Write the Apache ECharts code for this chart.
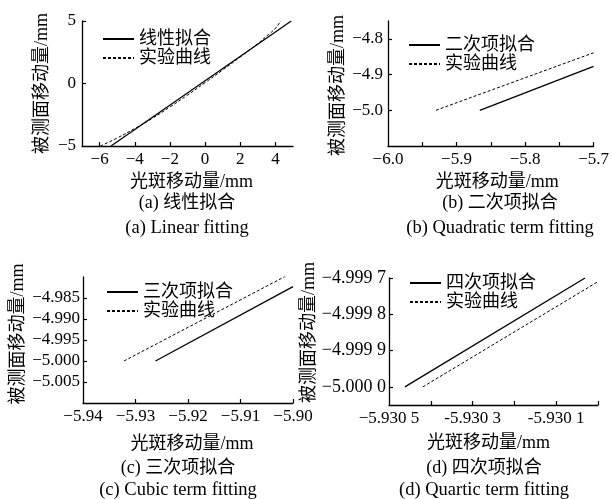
<!DOCTYPE html>
<html>
<head>
<meta charset="utf-8">
<script src="https://cdn.jsdelivr.net/npm/echarts@6/dist/echarts.min.js"></script>
<style>
html,body{margin:0;padding:0;background:#fff;}
#chart{width:612px;height:499px;}
</style>
</head>
<body>
<div id="chart"></div>
<script>
// ---------- data ----------
const legendFit = ['线性拟合', '二次项拟合', '三次项拟合', '四次项拟合'];
const legendExp = '实验曲线';
const xName = '光斑移动量/mm';
const yName = '被测面移动量/mm';
const captionsCN = ['(a) 线性拟合', '(b) 二次项拟合', '(c) 三次项拟合', '(d) 四次项拟合'];
const captionsEN = ['(a) Linear fitting', '(b) Quadratic term fitting', '(c) Cubic term fitting', '(d) Quartic term fitting'];

// (a) linear fitting
const linFitX = [-5.35, 4.9];
const linFitY = [-5.0, 5.0];
const linExpX = [-5.95, -5.0, -4.0, -3.0, -2.0, -1.0, 0.0, 1.0, 2.0, 3.0, 3.5, 4.0, 4.3];
const linExpY = [-5.0, -4.36, -3.60, -2.79, -1.88, -0.93, 0.07, 1.08, 2.12, 3.20, 3.79, 4.42, 5.0];
const linXTicks = [-6, -4, -2, 0, 2, 4];
const linXLabels = ['−6', '−4', '−2', '0', '2', '4'];
const linYTicks = [-5, 0, 5];
const linYLabels = ['−5', '0', '5'];

// (b) quadratic term fitting
const quadFitX = [-5.866, -5.7];
const quadFitY = [-5.0, -4.877];
const quadExpX = [-5.930, -5.7];
const quadExpY = [-5.0, -4.839];
const quadXTicks = [-5.95, -5.9, -5.85, -5.8, -5.75, -5.7];
const quadXLabelVals = [-6.0, -5.9, -5.8, -5.7];
const quadXLabels = ['−6.0', '−5.9', '−5.8', '−5.7'];
const quadYTicks = [-5.0, -4.9, -4.8];
const quadYLabels = ['−5.0', '−4.9', '−4.8'];

// (c) cubic term fitting
const cubFitX = [-5.9262, -5.9000];
const cubFitY = [-5.0, -4.9823];
const cubExpX = [-5.9322, -5.9014];
const cubExpY = [-5.0, -4.9798];
const cubXTicks = [-5.93, -5.92, -5.91, -5.90];
const cubXLabelVals = [-5.94, -5.93, -5.92, -5.91, -5.90];
const cubXLabels = ['−5.94', '−5.93', '−5.92', '−5.91', '−5.90'];
const cubYTicks = [-5.005, -5.0, -4.995, -4.99, -4.985];
const cubYLabels = ['−5.005', '−5.000', '−4.995', '−4.990', '−4.985'];

// (d) quartic term fitting
const quartFitX = [-5.930462, -5.930031];
const quartFitY = [-5.0, -4.9997];
const quartExpX = [-5.930419, -5.9300];
const quartExpY = [-5.0, -4.99971];
const quartXTicks = [-5.9304, -5.9303, -5.9302, -5.9301, -5.9300];
const quartXLabelVals = [-5.9305, -5.9303, -5.9301];
const quartXLabels = ['−5.930 5', '-5.930 3', '-5.930 1'];
const quartYTicks = [-5.0, -4.9999, -4.9998, -4.9997];
const quartYLabels = ['−5.000 0', '−4.999 9', '−4.999 8', '−4.999 7'];

// ---------- helpers ----------
const FONT = "Liberation Serif";
const MIX = "'Liberation Serif','Noto Sans CJK SC',serif";
function pairs(xs, ys) { return xs.map((x, i) => [x, ys[i]]); }
function fmt(vals, labels) {
  return function (v) {
    let best = 0, bd = Infinity;
    vals.forEach((t, i) => { const d = Math.abs(t - v); if (d < bd) { bd = d; best = i; } });
    return labels[best];
  };
}
const axisLine = { show: true, onZero: false, lineStyle: { color: '#000', width: 1.3 } };
function xAx(gi, min, max, tickVals, labelVals, labels, gap, namePad) {
  return {
    type: 'value', gridIndex: gi, min: min, max: max, position: 'bottom',
    axisLine: axisLine, splitLine: { show: false },
    axisTick: { show: true, inside: true, length: 4, customValues: tickVals, lineStyle: { color: '#000', width: 1.2 } },
    axisLabel: { customValues: labelVals, formatter: fmt(labelVals, labels), color: '#000', fontFamily: FONT, fontSize: 17, margin: 5 },
    name: xName, nameLocation: 'middle', nameGap: gap,
    nameTextStyle: { color: '#000', fontFamily: MIX, fontSize: 18, padding: namePad }
  };
}
function yAx(gi, min, max, tickVals, labelVals, labels, gap, namePad, margin, fs) {
  return {
    type: 'value', gridIndex: gi, min: min, max: max, position: 'left',
    axisLine: axisLine, splitLine: { show: false },
    axisTick: { show: true, inside: true, length: 4, customValues: tickVals, lineStyle: { color: '#000', width: 1.2 } },
    axisLabel: { customValues: labelVals, formatter: fmt(labelVals, labels), color: '#000', fontFamily: FONT, fontSize: fs, margin: margin },
    name: yName, nameLocation: 'middle', nameGap: gap,
    nameTextStyle: { color: '#000', fontFamily: MIX, fontSize: 18, padding: namePad }
  };
}
function fitSeries(i, name, data) {
  return { type: 'line', name: name, xAxisIndex: i, yAxisIndex: i, data: data, symbol: 'none', smooth: false,
    lineStyle: { color: '#000', width: 1.3, type: 'solid' }, itemStyle: { color: '#000' }, animation: false };
}
function expSeries(i, data, smooth) {
  return { type: 'line', name: legendExp, xAxisIndex: i, yAxisIndex: i, data: data, symbol: 'none', smooth: smooth,
    lineStyle: { color: '#000', width: 1, type: [3, 2] }, itemStyle: { color: '#000' }, animation: false };
}
function legend(i, left, top) {
  return {
    orient: 'vertical', left: left, top: top, itemWidth: 31, itemHeight: 10, itemGap: 1,
    selectedMode: false, padding: 0,
    data: [{ name: legendFit[i] }, { name: legendExp }],
    itemStyle: { opacity: 0, borderWidth: 0 },
    textStyle: { color: '#000', fontFamily: MIX, fontSize: 18, lineHeight: 18 }
  };
}

const grids = [
  { left: 82, top: 21, width: 211, height: 125 },
  { left: 388, top: 21, width: 211, height: 125 },
  { left: 83, top: 277, width: 210, height: 126 },
  { left: 389, top: 278, width: 209, height: 127 }
];

const capX = [187, 500, 178, 484];
const capY1 = [194, 194, 459, 459];
const capY2 = [219, 219, 481, 481];
const titles = [];
for (let i = 0; i < 4; i++) {
  titles.push({ text: captionsCN[i], left: capX[i], top: capY1[i], textAlign: 'center', padding: 0,
    textStyle: { color: '#000', fontFamily: MIX, fontSize: 18, fontWeight: 'normal' } });
  titles.push({ text: captionsEN[i], left: capX[i], top: capY2[i], textAlign: 'center', padding: 0,
    textStyle: { color: '#000', fontFamily: FONT, fontSize: 18.5, fontWeight: 'normal' } });
}

const option = {
  backgroundColor: '#fff',
  animation: false,
  textStyle: { fontFamily: FONT },
  title: titles,
  grid: grids,
  xAxis: [
    xAx(0, -7, 5, linXTicks, linXTicks, linXLabels, 27, [0, 0, 0, 8]),
    xAx(1, -6.0, -5.7, quadXTicks, quadXLabelVals, quadXLabels, 27, [0, 0, 0, 13]),
    xAx(2, -5.94, -5.90, cubXTicks, cubXLabelVals, cubXLabels, 32, [0, 0, 0, 8]),
    xAx(3, -5.9305, -5.9300, quartXTicks, quartXLabelVals, quartXLabels, 29, [0, 10, 0, 0])
  ],
  yAxis: [
    yAx(0, -5, 5, [0, 5], linYTicks, linYLabels, 31, [0, 0, 0, 0], 6, 17),
    yAx(1, -5.1, -4.75, quadYTicks, quadYTicks, quadYLabels, 41, [0, 4, 0, 0], 5, 17),
    yAx(2, -5.01, -4.98, cubYTicks, cubYTicks, cubYLabels, 56, [0, 0, 0, 12], 3, 17),
    yAx(3, -5.00005, -4.9997, quartYTicks, quartYTicks, quartYLabels, 71, [0, 0, 0, 18], 3, 18)
  ],
  legend: [
    legend(0, 102, 30),
    legend(1, 408, 36),
    legend(2, 106, 283),
    legend(3, 409, 274)
  ],
  series: [
    fitSeries(0, legendFit[0], pairs(linFitX, linFitY)),
    expSeries(0, pairs(linExpX, linExpY), true),
    fitSeries(1, legendFit[1], pairs(quadFitX, quadFitY)),
    expSeries(1, pairs(quadExpX, quadExpY), false),
    fitSeries(2, legendFit[2], pairs(cubFitX, cubFitY)),
    expSeries(2, pairs(cubExpX, cubExpY), false),
    fitSeries(3, legendFit[3], pairs(quartFitX, quartFitY)),
    expSeries(3, pairs(quartExpX, quartExpY), false)
  ]
};
const chart = echarts.init(document.getElementById('chart'), null, { renderer: 'canvas' });
chart.setOption(option);
</script>
</body>
</html>
